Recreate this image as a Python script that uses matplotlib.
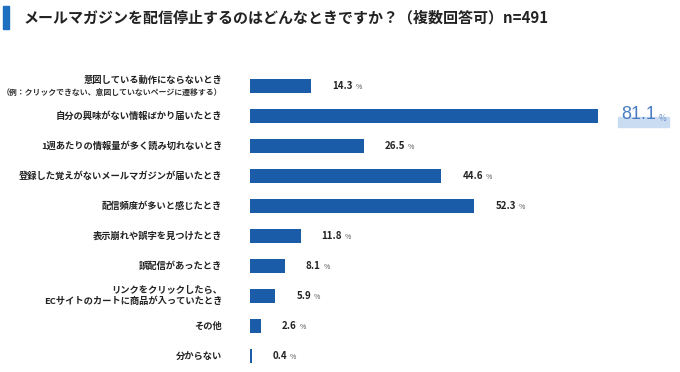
import matplotlib
matplotlib.use('Agg')
import matplotlib.pyplot as plt
from matplotlib.patches import Rectangle

plt.rcParams['font.family'] = ['Noto Sans CJK JP', 'DejaVu Sans']

labels = [
    '意図している動作にならないとき',
    '自分の興味がない情報ばかり届いたとき',
    '1週あたりの情報量が多く読み切れないとき',
    '登録した覚えがないメールマガジンが届いたとき',
    '配信頻度が多いと感じたとき',
    '表示崩れや誤字を見つけたとき',
    '誤配信があったとき',
    'リンクをクリックしたら、\nECサイトのカートに商品が入っていたとき',
    'その他',
    '分からない',
]
sublabels = {0: '（例：クリックできない、意図していないページに遷移する）'}
values = [14.3, 81.1, 26.5, 44.6, 52.3, 11.8, 8.1, 5.9, 2.6, 0.4]
title = 'メールマガジンを配信停止するのはどんなときですか？（複数回答可）n=491'

W, H = 680, 372
fig = plt.figure(figsize=(W / 100, H / 100), dpi=100)
ax = fig.add_axes([250 / W, 1 / H, 400 / W, 300 / H])

bar_color = '#1b5ca8'
y = list(range(len(values)))
ax.barh(y, values, height=0.47, color=bar_color)
ax.set_xlim(0, 400 / 4.29)
ax.set_ylim(len(values) - 0.5, -0.5)
ax.axis('off')

# category labels
for i, lab in enumerate(labels):
    if i in sublabels:
        ax.text(-28 / 4.29, i - 0.18, lab, ha='right', va='center',
                fontsize=6.7, fontweight='bold', color='#222222')
        ax.text(-28 / 4.29, i + 0.22, sublabels[i], ha='right', va='center',
                fontsize=5.7, fontweight='bold', color='#333333')
    else:
        ax.text(-28 / 4.29, i, lab, ha='right', va='center', linespacing=1.2,
                fontsize=6.7, fontweight='bold', color='#222222')

# value labels
fig.canvas.draw()
renderer = fig.canvas.get_renderer()
top = max(values)
for i, v in enumerate(values):
    if v == top:
        t = ax.text(v + 23 / 4.29, i - 0.06, f'{v:.1f}', ha='left', va='center',
                    fontsize=13, color='#4a7cc4', family='Liberation Sans',
                    zorder=5)
        pct_size, pct_col = 6, '#6a8fc8'
    else:
        t = ax.text(v + 21 / 4.29, i, f'{v:.1f}', ha='left', va='center',
                    fontsize=7, fontweight='bold', color='#222222')
        pct_size, pct_col = 5, '#555555'
    bb = t.get_window_extent(renderer)
    p = ax.annotate('%', xy=(bb.x1, bb.y0), xycoords='figure pixels',
                    xytext=(2, 0), textcoords='offset points', zorder=5,
                    ha='left', va='bottom', fontsize=pct_size, color=pct_col)
    if v == top:
        pb = p.get_window_extent(renderer)
        ax.add_patch(Rectangle((bb.x0 - 3, bb.y0 - 4), pb.x1 - bb.x0 + 6, 10,
                               transform=None, color='#c9dcf2', zorder=1,
                               clip_on=False))

# title with accent bar
fig.patches.append(Rectangle((3 / W, 1 - 29 / H), 6 / W, 23 / H,
                             transform=fig.transFigure, color='#1f6fc0'))
fig.text(24 / W, 1 - 17 / H, title, ha='left', va='center',
         fontsize=10.8, fontweight='bold', color='#222222')

fig.savefig('out.png', dpi=100, facecolor='white')
